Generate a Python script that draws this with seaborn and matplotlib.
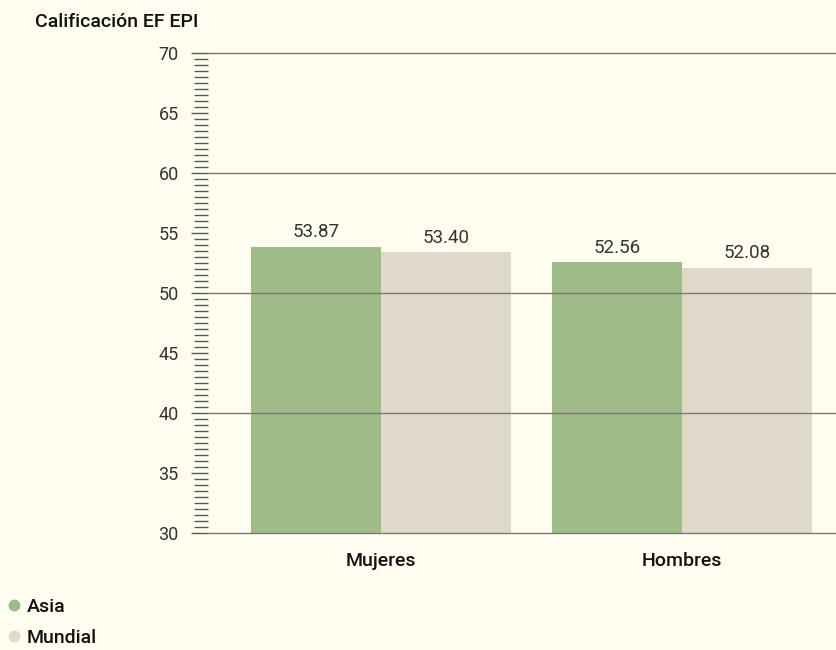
import pandas as pd
import matplotlib.pyplot as plt
import seaborn as sns
from matplotlib.ticker import MultipleLocator
from matplotlib.lines import Line2D

# data
categories = ['Mujeres', 'Hombres']
asia = [53.87, 52.56]
mundial = [53.40, 52.08]
series_names = ['Asia', 'Mundial']
colors = ['#9fbb88', '#dfd9c9']

bg = '#fefdef'
sns.set_theme(style='white')
plt.rcParams['font.family'] = ['Roboto', 'DejaVu Sans']

df = pd.DataFrame({
    'cat': categories * 2,
    'serie': [series_names[0]] * 2 + [series_names[1]] * 2,
    'val': asia + mundial,
})

fig = plt.figure(figsize=(8.37, 6.5), dpi=100, facecolor=bg)
ax = fig.add_axes([0.2485, 0.18, 0.7515, 0.7385], facecolor=bg)

sns.barplot(data=df, x='cat', y='val', hue='serie', hue_order=series_names,
            palette=colors, width=0.864, saturation=1, ax=ax, legend=False,
            edgecolor='none', linewidth=0)

ax.set_ylim(30, 70)
ax.set_xlim(-0.575, 1.515)
ax.yaxis.set_major_locator(MultipleLocator(5))
ax.yaxis.set_minor_locator(MultipleLocator(0.5))
ax.tick_params(axis='y', which='major', length=12.5, width=1, color='#5a5a55',
               labelsize=13, labelcolor='#333333', pad=8.5, left=True)
ax.tick_params(axis='y', which='minor', length=10, width=1, color='#5a5a55', left=True)
ax.tick_params(axis='x', length=0, labelsize=14, pad=14)
for lbl in ax.get_xticklabels():
    lbl.set_fontweight('medium')
    lbl.set_color('#111111')

# gridlines every 10, drawn on top of bars
for v in range(30, 71, 10):
    ax.axhline(v, color='#7a7a72', linewidth=1, zorder=5, clip_on=False)

for s in ax.spines.values():
    s.set_visible(False)
ax.set_xlabel('')
ax.set_ylabel('')

# value labels
for cont in ax.containers:
    ax.bar_label(cont, labels=[f'{h:.2f}' for h in cont.datavalues], padding=4,
                 fontsize=13.5, color='#333333')

fig.text(0.042, 0.966, 'Calificación EF EPI', fontsize=14, fontweight='medium',
         color='#111111', ha='left', va='center')

handles = [Line2D([0], [0], marker='o', linestyle='none', markersize=8.5,
                  markerfacecolor=c, markeredgecolor='none') for c in colors]
leg = fig.legend(handles, series_names, loc='lower left', bbox_to_anchor=(-0.018, -0.022),
                 frameon=False, fontsize=14, handletextpad=0.05, labelspacing=0.68,
                 handlelength=1.2)
for t in leg.get_texts():
    t.set_fontweight('medium')
    t.set_color('#111111')

fig.savefig('out.png', dpi=100, facecolor=bg)
